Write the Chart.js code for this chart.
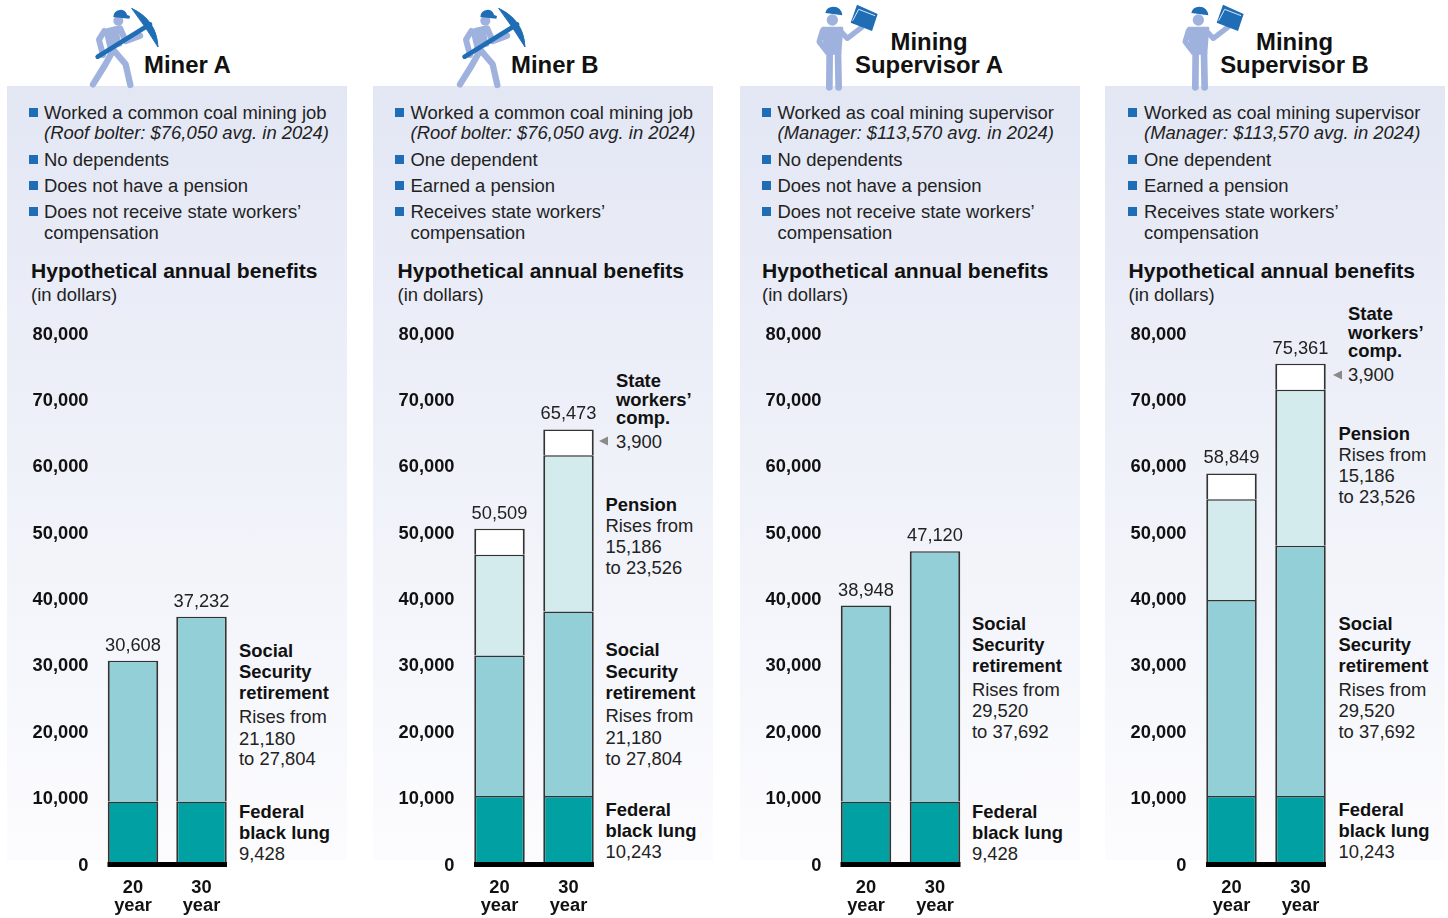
<!DOCTYPE html>
<html><head><meta charset="utf-8">
<style>
html,body{margin:0;padding:0;background:#fff;width:1448px;height:918px;overflow:hidden;font-family:"Liberation Sans",Arial,sans-serif;color:#222}
.p{position:absolute;top:86px;width:340px;height:774px;background:linear-gradient(#E3E7F4,#FCFCFE)}
.t{position:absolute;white-space:nowrap;line-height:1;transform:translateY(-50%)}
.b{font-weight:bold;color:#111}
.sq{position:absolute;width:9px;height:9px;background:#1F6DB5}
canvas{position:absolute;top:300px}
svg{position:absolute;overflow:visible}
</style>
<script src="https://cdn.jsdelivr.net/npm/chart.js@4"></script>
</head><body>
<script>
// ---- data ----
const categories = [['20','year'],['30','year']];
const yTicks = [0,10000,20000,30000,40000,50000,60000,70000,80000];
const blackLungLow = [9428,9428];
const blackLungHigh = [10243,10243];
const socialSecurityMiner = [21180,27804];
const socialSecuritySupervisor = [29520,37692];
const pension = [15186,23526];
const stateComp = [3900,3900];

const panelNames = ['Miner A','Miner B','Mining Supervisor A','Mining Supervisor B'];
const panelLeft = [7,373,740,1105];
const plotCenters = [[133,201.5],[499.5,568.5],[866,935],[1231.5,1300.5]];
const panelSeries = [
  [blackLungLow,socialSecurityMiner],
  [blackLungHigh,socialSecurityMiner,pension,stateComp],
  [blackLungLow,socialSecuritySupervisor],
  [blackLungHigh,socialSecuritySupervisor,pension,stateComp]
];
const seriesLabels = ['Federal black lung','Social Security retirement','Pension','State workers’ comp.'];
const seriesColors = ['#00A0A3','#92CFD6','#D3EBED','#FFFFFF'];

function text(x,y,s,size,cls,style){
  const d=document.createElement('div');d.className='t '+(cls||'');
  d.style.left=x+'px';d.style.top=y+'px';d.style.fontSize=size+'px';
  if(style)d.style.cssText+=style;d.textContent=s;document.body.appendChild(d);return d;
}
// panels
panelLeft.forEach(l=>{const d=document.createElement('div');d.className='p';d.style.left=l+'px';document.body.appendChild(d);});

// bullets + headers
const bulletX=[44,410.5,777.5,1144], headX=[31,397.5,762,1128.5], squareX=[29,395,762,1128];
const bulletsMiner=[[ 'Worked a common coal mining job',113],['(Roof bolter: $76,050 avg. in 2024)',133,1]];
const bulletsSup=[['Worked as coal mining supervisor',113],['(Manager: $113,570 avg. in 2024)',133,1]];
const bNo=[['No dependents',160],['Does not have a pension',186],['Does not receive state workers’',212],['compensation',233]];
const bYes=[['One dependent',160],['Earned a pension',186],['Receives state workers’',212],['compensation',233]];
const allBullets=[bulletsMiner.concat(bNo),bulletsMiner.concat(bYes),bulletsSup.concat(bNo),bulletsSup.concat(bYes)];
const squares=[113,160,186,212];
allBullets.forEach((list,i)=>{
  list.forEach(r=>text(bulletX[i],r[1],r[0],18.45,'',r[2]?'font-style:italic':''));
  squares.forEach(y=>{const s=document.createElement('div');s.className='sq';s.style.left=squareX[i]+'px';s.style.top=(y-5)+'px';document.body.appendChild(s);});
  text(headX[i],270.5,'Hypothetical annual benefits',21.05,'b');
  text(headX[i],295,'(in dollars)',18.45);
});
// titles
text(144,65,'Miner A',23.9,'b');text(511,65,'Miner B',23.9,'b');
[[929,'Supervisor A'],[1294.5,'Supervisor B']].forEach(a=>{
  const m=text(a[0],42,'Mining',23.9,'b');m.style.transform='translate(-50%,-50%)';
  const n=text(a[0],65,a[1],23.9,'b');n.style.transform='translate(-50%,-50%)';
});
// annotations: [x,y,text,bold]
const notes=[
 [239,651,'Social',1],[239,672,'Security',1],[239,693,'retirement',1],[239,717,'Rises from'],[239,739,'21,180'],[239,759,'to 27,804'],
 [239,812,'Federal',1],[239,833,'black lung',1],[239,854,'9,428'],
 [616,381,'State',1],[616,400,'workers’',1],[616,418,'comp.',1],[616,442,'3,900'],
 [605.5,505,'Pension',1],[605.5,526,'Rises from'],[605.5,547,'15,186'],[605.5,568,'to 23,526'],
 [605.5,650,'Social',1],[605.5,672,'Security',1],[605.5,693,'retirement',1],[605.5,716,'Rises from'],[605.5,738,'21,180'],[605.5,759,'to 27,804'],
 [605.5,810,'Federal',1],[605.5,831,'black lung',1],[605.5,852,'10,243'],
 [972,624,'Social',1],[972,645,'Security',1],[972,666,'retirement',1],[972,690,'Rises from'],[972,711,'29,520'],[972,732,'to 37,692'],
 [972,812,'Federal',1],[972,833,'black lung',1],[972,854,'9,428'],
 [1348,314,'State',1],[1348,333,'workers’',1],[1348,351,'comp.',1],[1348,375,'3,900'],
 [1338.5,434,'Pension',1],[1338.5,455,'Rises from'],[1338.5,476,'15,186'],[1338.5,497,'to 23,526'],
 [1338.5,624,'Social',1],[1338.5,645,'Security',1],[1338.5,666,'retirement',1],[1338.5,690,'Rises from'],[1338.5,711,'29,520'],[1338.5,732,'to 37,692'],
 [1338.5,810,'Federal',1],[1338.5,831,'black lung',1],[1338.5,852,'10,243']
];
notes.forEach(n=>text(n[0],n[1],n[2],18.4,n[3]?'b':''));

// icons
const LB='#9FB1DD',DB='#1F6DB5';
function svg(x,y,w,h,vw,vh,inner){
  const host=document.createElement('div');
  host.innerHTML=`<svg style="left:${x}px;top:${y}px" width="${w}" height="${h}" viewBox="0 0 ${vw} ${vh}">${inner}</svg>`;
  document.body.appendChild(host);
}
const minerIcon=`
<g fill="none" stroke="${LB}" stroke-linecap="round" stroke-linejoin="round">
<circle cx="100" cy="47" r="15" fill="${LB}" stroke="none"/>
<path d="M58 78 L42 104 L54 150" stroke-width="18"/>
<path d="M70 78 L105 70 L122 108 L165 92" stroke-width="19"/>
<path d="M78 78 L90 128" stroke-width="44" stroke-linecap="butt"/>
<path d="M85 135 L60 180 L24 238" stroke-width="19"/>
<path d="M90 140 L122 178 L136 240" stroke-width="19"/>
</g>
<path d="M85 36 Q85 17 108 14 Q124 16 126 30 L135 33 L133 41 Z" fill="${DB}"/>
<path d="M38 155 L195 58" stroke="${DB}" stroke-width="14" stroke-linecap="round"/>
<path d="M140 10 Q215 45 219 126 Q185 70 140 10 Z" fill="${DB}" stroke="${DB}" stroke-width="3" stroke-linejoin="round"/>`;
const supIcon=`
<g fill="none" stroke="${LB}" stroke-linecap="round" stroke-linejoin="round">
<circle cx="67" cy="60" r="17" fill="${LB}" stroke="none"/>
<path d="M38 92 L28 125 L47 150" stroke-width="17"/>
<path d="M90 92 L112 115 L155 82" stroke-width="16"/>
<path d="M38 84 L96 84 L90 160 L48 160 Z" fill="${LB}" stroke-width="8"/>
<path d="M59 160 L58 262" stroke-width="20"/>
<path d="M84 160 L86 262" stroke-width="20"/>
</g>
<path d="M46 39 Q50 20 70 20 Q94 20 97 46 Z" fill="${DB}"/>
<path d="M141 14 L203 42 L186 93 L122 68 Z" fill="${DB}"/>
<path d="M128 62 L146 28 L195 47" fill="none" stroke="#DCE6F5" stroke-width="3"/>`;
svg(85,5,80,90,240,270,minerIcon);
svg(451.5,5,80,90,240,270,minerIcon);
svg(810,0,75,95,225,285,supIcon);
svg(1175.5,0,75,95,225,285,supIcon);

// arrows for state comp
[[604,441],[1338,375]].forEach(a=>svg(a[0]-5,a[1]-5,10,10,10,10,'<path d="M0 5 L9 0.5 L9 9.5 Z" fill="#8a8a8a"/>'));

// charts
const tickFont={family:'"Liberation Sans",Arial,sans-serif',size:18.3,weight:'bold'};
const basePlugin={
  id:'baseAndTotals',
  afterDatasetsDraw(chart){
    const {ctx,scales:{x,y}}=chart, half=25;
    ctx.save();
    ctx.fillStyle='#000';
    ctx.fillRect(x.getPixelForValue(0)-half-.5,y.getPixelForValue(0)-2,x.getPixelForValue(1)-x.getPixelForValue(0)+2*half+1,5);
    ctx.fillStyle='#222';ctx.font='18.3px "Liberation Sans",Arial,sans-serif';
    ctx.textAlign='center';ctx.textBaseline='middle';
    categories.forEach((c,i)=>{
      const total=chart.data.datasets.reduce((s,d)=>s+d.data[i],0);
      ctx.fillText(total.toLocaleString('en-US'),x.getPixelForValue(i),y.getPixelForValue(total)-15);
    });
    ctx.restore();
  }
};
panelNames.forEach((name,i)=>{
  const left=panelLeft[i],W=340,H=618;
  const sp=plotCenters[i][1]-plotCenters[i][0];
  const plotL=plotCenters[i][0]-sp/2-left, plotR=plotCenters[i][1]+sp/2-left;
  const cv=document.createElement('canvas');cv.style.left=left+'px';cv.width=W;cv.height=H;
  cv.setAttribute('aria-label',name);document.body.appendChild(cv);
  new Chart(cv,{
    type:'bar',
    data:{labels:categories,datasets:panelSeries[i].map((d,k)=>({
      label:seriesLabels[k],data:d,backgroundColor:seriesColors[k],
      borderColor:'#333',borderWidth:{left:2,right:2,top:1.5,bottom:0},borderSkipped:false,
      barPercentage:50.5/sp,categoryPercentage:1
    }))},
    options:{
      responsive:false,animation:false,
      devicePixelRatio:1,
      layout:{padding:{left:0,right:W-plotR,top:33,bottom:0}},
      plugins:{legend:{display:false},title:{display:false},tooltip:{enabled:false}},
      scales:{
        x:{stacked:true,grid:{display:false,drawTicks:false},border:{display:false},
           ticks:{color:'#111',font:{...tickFont,lineHeight:1},padding:15,maxRotation:0,autoSkip:false},
           afterFit(s){s.height=54;}},
        y:{stacked:true,min:0,max:80000,grid:{display:false,drawTicks:false},border:{display:false},
           afterBuildTicks(s){s.ticks=yTicks.map(v=>({value:v}));},
           ticks:{color:'#111',font:tickFont,padding:plotL-81.5,labelOffset:1.5,
                  callback:v=>Number(v).toLocaleString('en-US')},
           afterFit(s){s.width=plotL;}}
      }
    },
    plugins:[basePlugin]
  });
});
</script>
</body></html>
